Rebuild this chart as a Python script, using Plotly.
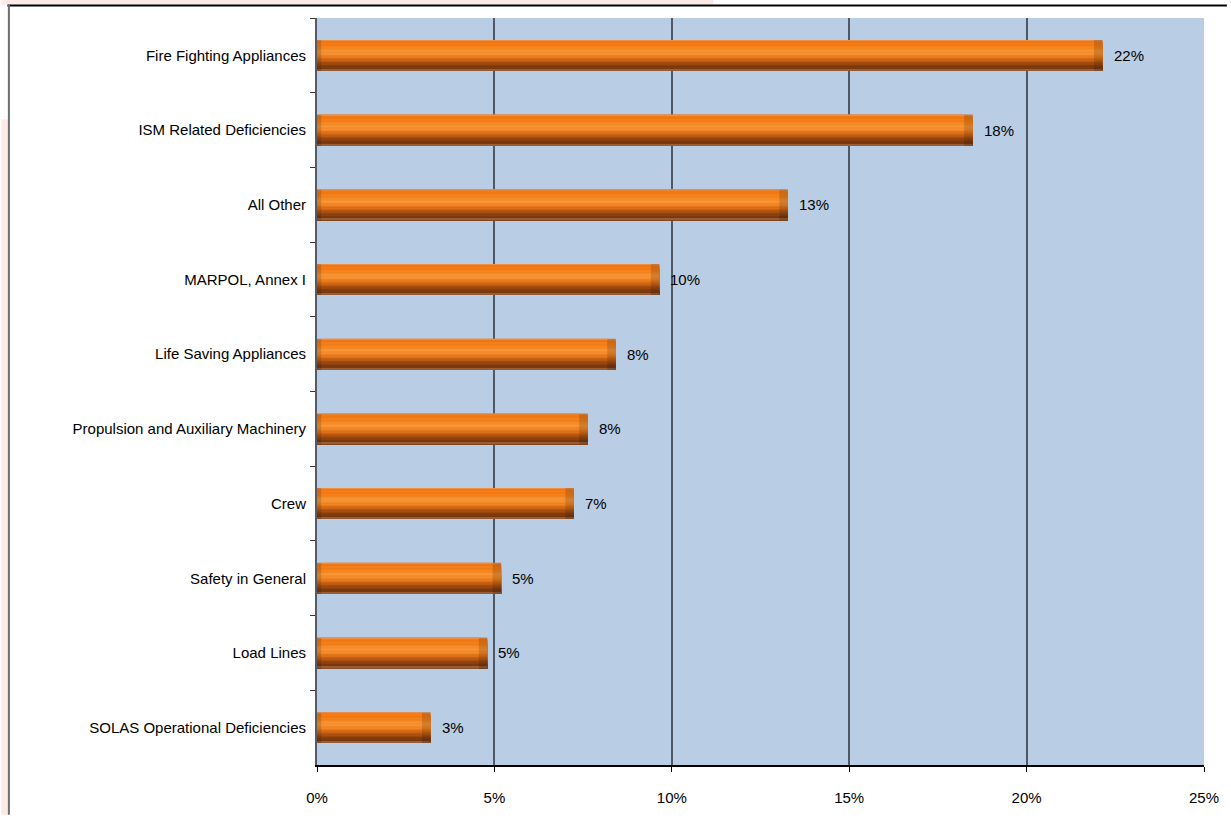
import plotly.graph_objects as go

# ---- data ----
categories = [
    "Fire Fighting Appliances",
    "ISM Related Deficiencies",
    "All Other",
    "MARPOL, Annex I",
    "Life Saving Appliances",
    "Propulsion and Auxiliary Machinery",
    "Crew",
    "Safety in General",
    "Load Lines",
    "SOLAS Operational Deficiencies",
]
shares = [0.2214, 0.1848, 0.1327, 0.0965, 0.0842, 0.0763, 0.0724, 0.0519, 0.0480, 0.0320]
x_tick_values = [0, 0.05, 0.10, 0.15, 0.20, 0.25]
x_tick_labels = ["0%", "5%", "10%", "15%", "20%", "25%"]

# ---- style ----
FONT = "Liberation Sans, Arial, sans-serif"
FSIZE = 15
BAR_W = 0.413
LEFT_BEVEL = 0.0012
RIGHT_BEVEL = 0.0024
N_BANDS = 22
# vertical colour profile of the bevelled bar (fraction from top, colour)
profile = [
    (0.00, "#E9A070"),
    (0.05, "#F67812"),
    (0.25, "#F8841C"),
    (0.38, "#FB9838"),
    (0.50, "#F88A26"),
    (0.62, "#DC6E16"),
    (0.75, "#A94E10"),
    (0.88, "#7C3A0E"),
    (0.95, "#7A3A0E"),
    (1.00, "#B07A58"),
]


def hex2rgb(h):
    h = h.lstrip("#")
    return [int(h[i:i + 2], 16) for i in (0, 2, 4)]


def rgb2hex(c):
    return "#%02X%02X%02X" % tuple(max(0, min(255, int(round(v)))) for v in c)


def colour_at(t):
    for (ta, ca), (tb, cb) in zip(profile[:-1], profile[1:]):
        if ta <= t <= tb:
            f = 0 if tb == ta else (t - ta) / (tb - ta)
            a, b = hex2rgb(ca), hex2rgb(cb)
            return rgb2hex([a[i] + (b[i] - a[i]) * f for i in range(3)])
    return profile[-1][1]


def darken(hex_color, f):
    return rgb2hex([v * f for v in hex2rgb(hex_color)])


def tfont(size=FSIZE):
    return dict(family=FONT, size=size, color="#000000")


fig = go.Figure()
for k in range(N_BANDS):
    t0 = k / N_BANDS
    col = colour_at((k + 0.5) / N_BANDS)
    off = -BAR_W / 2 + t0 * BAR_W
    wid = (1 - t0) * BAR_W
    fig.add_trace(go.Bar(
        y=categories, x=shares, orientation="h",
        offset=off, width=wid,
        marker=dict(color=darken(col, 0.84), line=dict(width=0)),
        hoverinfo="skip", showlegend=False,
    ))
    fig.add_trace(go.Bar(
        y=categories,
        x=[v - LEFT_BEVEL - RIGHT_BEVEL for v in shares],
        base=[LEFT_BEVEL] * len(shares),
        orientation="h",
        offset=off, width=wid,
        marker=dict(color=col, line=dict(width=0)),
        hoverinfo="skip", showlegend=False,
    ))

annotations = []
for cat, v in zip(categories, shares):
    annotations.append(dict(
        x=v, y=cat, xref="x", yref="y", text=f"{v:.0%}",
        showarrow=False, xanchor="left", yanchor="middle", xshift=9,
        font=tfont(),
    ))

# plot area in pixels: x 317..1208, y 18..768
def px_x(p):
    return (p - 317) / 891


def px_y(p):
    return (768 - p) / 750


shapes = [
    # faint slide background decorations
    dict(type="rect", xref="paper", yref="paper", x0=px_x(0), x1=px_x(715), y0=px_y(0), y1=px_y(4.5),
         fillcolor="#FDE8E8", line=dict(width=0), layer="below"),
    dict(type="rect", xref="paper", yref="paper", x0=px_x(0), x1=px_x(6.5), y0=px_y(818), y1=px_y(120),
         fillcolor="#FDE8E8", line=dict(width=0), layer="below"),
    # chart frame
    dict(type="line", xref="paper", yref="paper", x0=px_x(6), x1=px_x(1231), y0=px_y(5.5), y1=px_y(5.5),
         line=dict(color="#000000", width=2)),
    dict(type="line", xref="paper", yref="paper", x0=px_x(7.5), x1=px_x(7.5), y0=px_y(5), y1=px_y(818),
         line=dict(color="#6E6E6E", width=2)),
]

fig.update_layout(
    width=1231, height=818,
    margin=dict(l=317, r=23, t=18, b=50),
    paper_bgcolor="#FFFFFF",
    plot_bgcolor="#B9CDE4",
    barmode="overlay",
    font=tfont(),
    annotations=annotations,
    shapes=shapes,
    xaxis=dict(
        range=[0, 0.25],
        tickvals=x_tick_values, ticktext=x_tick_labels,
        showgrid=True, gridcolor="#4F5866", gridwidth=1.6,
        zeroline=False,
        showline=True, linecolor="#000000", linewidth=2,
        ticks="outside", ticklen=5, tickcolor="#000000", tickwidth=1,
        ticklabelstandoff=13,
        tickfont=tfont(),
        fixedrange=True,
    ),
    yaxis=dict(
        categoryorder="array", categoryarray=categories,
        autorange="reversed",
        showgrid=False, zeroline=False,
        showline=True, linecolor="#555B66", linewidth=2,
        ticks="outside", ticklen=5, tickcolor="#333333", tickwidth=1,
        tickson="boundaries",
        ticklabelstandoff=6,
        tickfont=tfont(),
        fixedrange=True,
    ),
)

fig.write_html("out.html")
